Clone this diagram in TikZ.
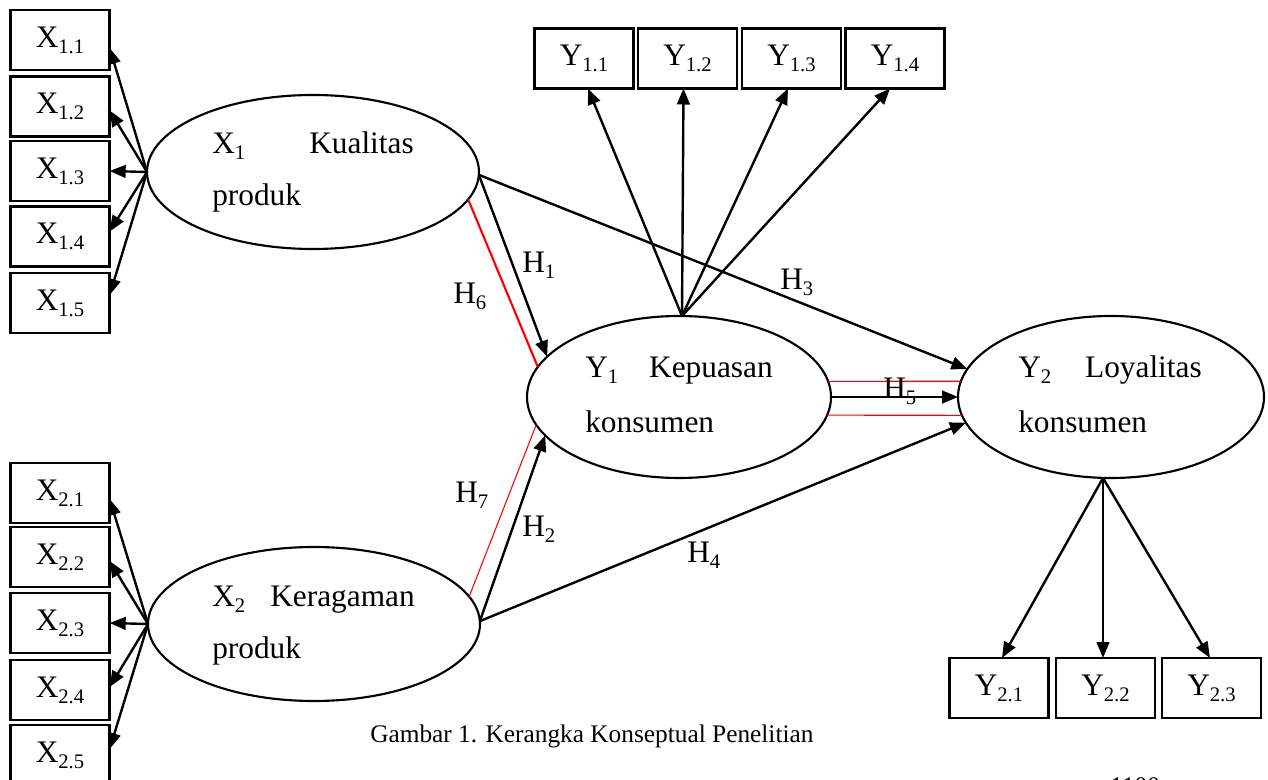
\documentclass[tikz,border=0pt]{standalone}
\usepackage{fontspec}
\setmainfont{Liberation Serif}
\usetikzlibrary{arrows.meta,calc,shapes.geometric}
\newcommand{\sbs}[1]{\raisebox{-4.5pt}{\fontsize{15.5pt}{16pt}\selectfont #1}}
\begin{document}
\begin{tikzpicture}[x=0.75pt,y=-0.75pt,
  font=\fontsize{23.5pt}{28pt}\selectfont,
  ind/.style={draw, line width=1.9pt, minimum width=74.5pt, minimum height=45pt, inner sep=0pt, outer sep=0pt},
  lat/.style={draw, ellipse, line width=1.6pt, inner sep=0pt, outer sep=0pt},
  arr/.style={line width=1.8pt, -{Triangle[length=12pt,width=9.5pt]}},
  redthick/.style={red, line width=1.6pt},
  redthin/.style={red, line width=0.8pt},
  lbl/.style={inner sep=0pt, anchor=base west},
  lble/.style={inner sep=0pt, anchor=base east}]
\useasboundingbox (0,0) rectangle (1268,780);

% indicator boxes X1
\node[ind] (x11) at (60,40) {X\sbs{1.1}};
\node[ind] (x12) at (60,106.5) {X\sbs{1.2}};
\node[ind] (x13) at (60,171) {X\sbs{1.3}};
\node[ind] (x14) at (60,236.5) {X\sbs{1.4}};
\node[ind] (x15) at (60,303) {X\sbs{1.5}};
% indicator boxes X2
\node[ind] (x21) at (60,493) {X\sbs{2.1}};
\node[ind] (x22) at (60,557) {X\sbs{2.2}};
\node[ind] (x23) at (60,623) {X\sbs{2.3}};
\node[ind] (x24) at (60,690) {X\sbs{2.4}};
\node[ind] (x25) at (60,755) {X\sbs{2.5}};
% Y1 boxes
\node[ind] (y11) at (584,58.5) {Y\sbs{1.1}};
\node[ind] (y12) at (687.5,58.5) {Y\sbs{1.2}};
\node[ind] (y13) at (791.5,58.5) {Y\sbs{1.3}};
\node[ind] (y14) at (895,58.5) {Y\sbs{1.4}};
% Y2 boxes
\node[ind] (y21) at (999,688) {Y\sbs{2.1}};
\node[ind] (y22) at (1105.5,688) {Y\sbs{2.2}};
\node[ind] (y23) at (1211.5,688) {Y\sbs{2.3}};

% latent ellipses
\node[lat, minimum width=249pt, minimum height=115.5pt] (x1) at (313,172) {};
\node[lat, minimum width=249pt, minimum height=115.5pt] (x2) at (314,624) {};
\node[lat, minimum width=228pt, minimum height=121.5pt] (y1) at (679,397) {};
\node[lat, minimum width=229.5pt, minimum height=121.5pt] (y2) at (1111,397) {};

% ellipse texts
\node[lbl] (x1a) at (212,154) {X\sbs{1}};
\node[lble] (x1b) at (414,154) {Kualitas};
\node[lbl] (x1c) at (212,206) {produk};
\node[lbl] (x2a) at (212,606) {X\sbs{2}};
\node[lble] (x2b) at (415,606) {Keragaman};
\node[lbl] (x2c) at (212,658) {produk};
\node[lbl] (y1a) at (585,378) {Y\sbs{1}};
\node[lble] (y1b) at (773,378) {Kepuasan};
\node[lbl] (y1c) at (585,433) {konsumen};
\node[lbl] (y2a) at (1018,378) {Y\sbs{2}};
\node[lble] (y2b) at (1202,378) {Loyalitas};
\node[lbl] (y2c) at (1018,433) {konsumen};

% X1 indicator arrows
\draw[arr] (x1.west) -- ($(x11.east)+(0,8)$);
\draw[arr] (x1.west) -- ($(x12.east)+(0,4)$);
\draw[arr] (x1.west) -- (x13.east);
\draw[arr] (x1.west) -- ($(x14.east)+(0,-5)$);
\draw[arr] (x1.west) -- ($(x15.east)+(0,-8)$);
% X2 indicator arrows
\draw[arr] (x2.west) -- ($(x21.east)+(0,6)$);
\draw[arr] (x2.west) -- ($(x22.east)+(0,4)$);
\draw[arr] (x2.west) -- (x23.east);
\draw[arr] (x2.west) -- ($(x24.east)+(0,-3)$);
\draw[arr] (x2.west) -- ($(x25.east)+(0,-6)$);
% Y1 indicator arrows
\coordinate (y1top) at ($(y1.north)+(3,0)$);
\draw[arr] (y1top) -- ($(y11.south)+(4,0)$);
\draw[arr] (y1top) -- ($(y12.south)+(-4,0)$);
\draw[arr] (y1top) -- ($(y13.south)+(-3.5,0)$);
\draw[arr] (y1top) -- ($(y14.south)+(-5,0)$);
% Y2 indicator arrows
\coordinate (y2bot) at ($(y2.south)+(-8,0)$);
\draw[arr] (y2bot) -- ($(y21.north)+(3,0)$);
\draw[arr] (y2bot) -- ($(y22.north)+(-2.5,0)$);
\draw[arr] (y2bot) -- ($(y23.north)+(-1.5,0)$);

% structural paths
\draw[redthick] (x1.-10) -- (y1.168);
\draw[arr] (x1.-1) -- (y1.163);
\draw[arr] (x1.-1) -- (y2.169);
\draw[redthin] (x2.10) -- (y1.191);
\draw[arr] (x2.1) -- (y1.196);
\draw[arr] (x2.1) -- (y2.190);
\draw[redthin] (y1.6) -- (y2.174);
\draw[redthin] (y1.-7) -- (y2.187);
\draw[arr] (y1.east) -- (y2.west);

% hypothesis labels
\node[lbl] (h1) at (522,273) {H\sbs{1}};
\node[lbl] (h6) at (453,304) {H\sbs{6}};
\node[lbl] (h3) at (780,290) {H\sbs{3}};
\node[lbl] (h7) at (455,503) {H\sbs{7}};
\node[lbl] (h2) at (522,537) {H\sbs{2}};
\node[lbl] (h4) at (687,562) {H\sbs{4}};
\node[lbl] (h5) at (883,399) {H\sbs{5}};

% caption and page number
\node[lbl, font=\fontsize{19pt}{22pt}\selectfont] (cap) at (370,742) {Gambar 1. Kerangka Konseptual Penelitian};
\node[lbl, font=\fontsize{19pt}{22pt}\selectfont] (pg) at (1110,794) {1100};
\end{tikzpicture}
\end{document}
